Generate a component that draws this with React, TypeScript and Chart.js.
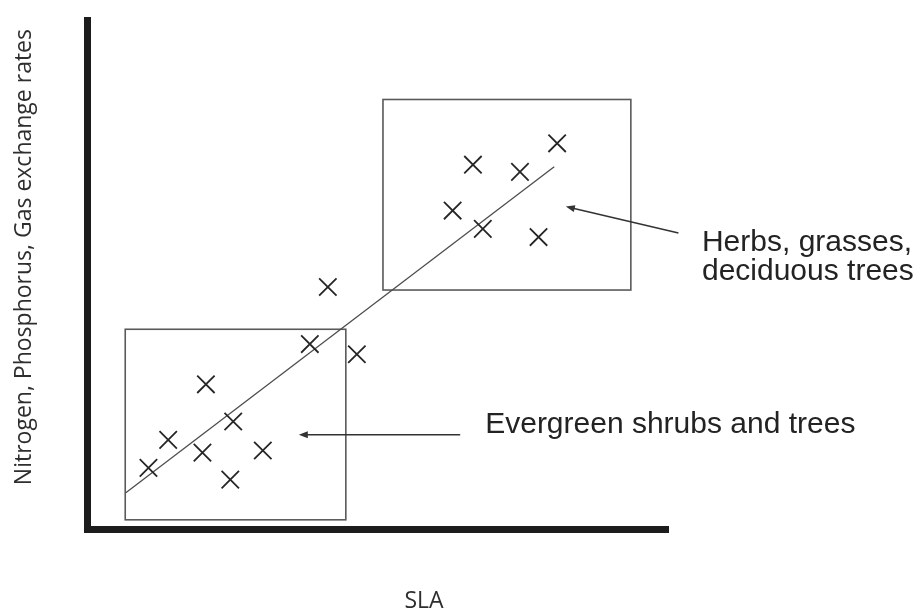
import React, { useEffect, useRef } from "react";
import { Chart, registerables } from "chart.js";

Chart.register(...registerables);

// ---- Data (arbitrary 0–100 units) ----
const sla = [10.5, 13.9, 19.8, 20.4, 24.6, 25.1, 30.2, 38.3, 46.4, 41.4, 62.9, 66.4, 68.1, 74.5, 77.7, 80.9];
const nutrient = [12.1, 17.6, 15.1, 28.5, 9.8, 21.2, 15.5, 36.4, 34.4, 47.6, 62.6, 71.6, 59.0, 70.2, 57.4, 75.8];

const trendSla = [6.6, 80.4];
const trendNutrient = [7.2, 71.2];

const groupLabels = [["Evergreen shrubs and trees"], ["Herbs, grasses,", "deciduous trees"]];
const groupBoxSla = [[6.5, 44.5], [50.9, 93.6]];
const groupBoxNutrient = [[1.9, 39.3], [47.0, 84.4]];
// arrow [tailX, tailY, tipX, tipY] in data units
const groupArrows = [[64.2, 18.6, 36.4, 18.6], [101.8, 58.2, 82.4, 63.4]];

const xTitle = "SLA";
const yTitle = "Nitrogen, Phosphorus, Gas exchange rates";

// ---- Drawing helpers ----
const LABEL_FONT = '30px "Liberation Sans", Arial, sans-serif';
const TITLE_FONT = '23px "Open Sans", sans-serif';
const labelOffsets = [
  { dx: 25, dy: -2, lh: 29.5 },
  { dx: 23.5, dy: 18, lh: 29.5 },
];

function drawArrow(ctx: CanvasRenderingContext2D, x1: number, y1: number, x2: number, y2: number) {
  const ang = Math.atan2(y2 - y1, x2 - x1);
  const c = Math.cos(ang), s = Math.sin(ang);
  const head = 9, hw = 3.5;
  ctx.beginPath();
  ctx.moveTo(x1, y1);
  ctx.lineTo(x2 - c * head * 0.7, y2 - s * head * 0.7);
  ctx.stroke();
  const bx = x2 - c * head, by = y2 - s * head;
  ctx.beginPath();
  ctx.moveTo(x2, y2);
  ctx.lineTo(bx - s * hw, by + c * hw);
  ctx.lineTo(bx + s * hw, by - c * hw);
  ctx.closePath();
  ctx.fill();
}

const annotationPlugin = {
  id: "groupAnnotations",
  beforeDatasetsDraw(chart: any) {
    const { ctx, scales } = chart;
    const xs = scales.x, ys = scales.y;
    ctx.save();
    ctx.strokeStyle = "#5a5a5a";
    ctx.lineWidth = 1.6;
    for (let i = 0; i < groupBoxSla.length; i++) {
      const l = xs.getPixelForValue(groupBoxSla[i][0]);
      const r = xs.getPixelForValue(groupBoxSla[i][1]);
      const b = ys.getPixelForValue(groupBoxNutrient[i][0]);
      const t = ys.getPixelForValue(groupBoxNutrient[i][1]);
      ctx.strokeRect(l, t, r - l, b - t);
    }
    ctx.restore();
  },
  afterDraw(chart: any) {
    const { ctx, scales } = chart;
    const xs = scales.x, ys = scales.y;
    ctx.save();
    // arrows + labels
    ctx.strokeStyle = "#333";
    ctx.fillStyle = "#333";
    ctx.lineWidth = 1.5;
    for (let i = 0; i < groupArrows.length; i++) {
      const [tx, ty, hx, hy] = groupArrows[i];
      const x1 = xs.getPixelForValue(tx), y1 = ys.getPixelForValue(ty);
      const x2 = xs.getPixelForValue(hx), y2 = ys.getPixelForValue(hy);
      drawArrow(ctx, x1, y1, x2, y2);
      ctx.fillStyle = "#232323";
      ctx.font = LABEL_FONT;
      ctx.textAlign = "left";
      ctx.textBaseline = "alphabetic";
      const o = labelOffsets[i];
      groupLabels[i].forEach((line, k) => {
        ctx.fillText(line, x1 + o.dx, y1 + o.dy + k * o.lh);
      });
      ctx.fillStyle = "#333";
    }
    // axis titles
    ctx.fillStyle = "#2e2e2e";
    ctx.font = TITLE_FONT;
    ctx.textAlign = "center";
    ctx.textBaseline = "alphabetic";
    ctx.fillText(xTitle, 424, 608);
    ctx.translate(30.5, 29);
    ctx.rotate(-Math.PI / 2);
    ctx.textAlign = "right";
    ctx.fillText(yTitle, 0, 0);
    ctx.restore();
  },
};

export default function App() {
  const ref = useRef<HTMLCanvasElement>(null);
  useEffect(() => {
    const canvas = ref.current!;
    const chart = new Chart(canvas, {
      type: "scatter",
      data: {
        datasets: [
          {
            label: "Species",
            data: sla.map((x, i) => ({ x, y: nutrient[i] })),
            pointStyle: "crossRot",
            pointRadius: 12.3,
            pointBorderWidth: 1.8,
            borderWidth: 1.8,
            pointBorderColor: "#262626",
            borderColor: "#262626",
            pointBackgroundColor: "#262626",
            order: 1,
          } as any,
          {
            label: "Trend",
            data: trendSla.map((x, i) => ({ x, y: trendNutrient[i] })),
            showLine: true,
            pointRadius: 0,
            borderColor: "#4d4d4d",
            borderWidth: 1.3,
            order: 2,
          } as any,
        ],
      },
      options: {
        responsive: false,
        animation: false,
        events: [],
        layout: { padding: { left: 87.5, right: 250, top: 20, bottom: 82.5 } },
        plugins: { legend: { display: false }, tooltip: { enabled: false } },
        scales: {
          x: {
            type: "linear",
            min: 0,
            max: 100,
            grid: { display: false, drawTicks: false },
            ticks: { display: false },
            border: { display: true, width: 7, color: "#1c1c1c" },
          },
          y: {
            type: "linear",
            min: 0,
            max: 100,
            grid: { display: false, drawTicks: false },
            ticks: { display: false },
            border: { display: true, width: 7, color: "#1c1c1c" },
          },
        },
      } as any,
      plugins: [annotationPlugin],
    });
    return () => chart.destroy();
  }, []);
  return (
    <div style={{ position: "fixed", left: 0, top: 0, width: 918, height: 612, background: "#fff" }}>
      <canvas ref={ref} width={918} height={612} style={{ display: "block", width: 918, height: 612 }} />
    </div>
  );
}
